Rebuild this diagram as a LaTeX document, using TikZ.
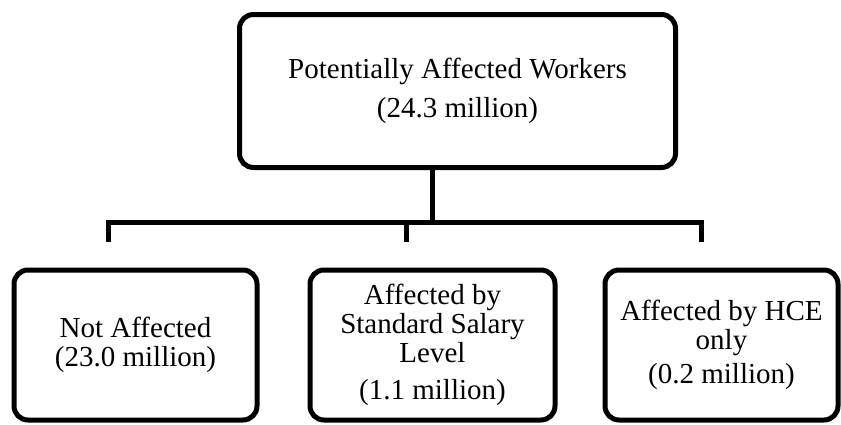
\documentclass[tikz,border=0pt]{standalone}
\usepackage{fontspec}
\setmainfont{Liberation Serif}
\usepackage{tikz}
\tikzstyle{box}=[draw, line width=5pt, rounded corners=14pt, align=center, inner sep=0, outer sep=0,
                 font=\fontsize{29}{29}\selectfont]
\tikzstyle{link}=[line width=5pt]
\tikzstyle{chart}=[x=1pt, y=-1pt]

\begin{document}
\begin{tikzpicture}[chart]
        \useasboundingbox (0, 0) rectangle (841, 424);
        \node[box, minimum width=436pt, minimum height=153pt] (workers) at (457.5, 91)
            {Potentially Affected Workers\\[10pt](24.3 million)};
        \node[box, minimum width=243pt, minimum height=150pt] (notaff) at (135.5, 345)
            {Not Affected\\(23.0 million)};
        \node[box, minimum width=245pt, minimum height=150pt] (stdsal) at (432.5, 345)
            {Affected by\\Standard Salary\\Level\\[8pt](1.1 million)};
        \node[box, minimum width=233pt, minimum height=150pt] (hce) at (721.5, 345)
            {Affected by HCE\\only\\[5pt](0.2 million)};
        % fork below the top box
        \coordinate (fork) at (432, 222);
        \coordinate (dropA) at (108, 241.5);
        \coordinate (dropB) at (406, 241.5);
        \coordinate (dropC) at (701, 241.5);
        \draw[link] (workers.south -| fork) -- (fork);
        \draw[link] (dropA) |- (fork) -| (dropC);
        \draw[link] (fork -| dropB) -- (dropB);
    \end{tikzpicture}
\end{document}
